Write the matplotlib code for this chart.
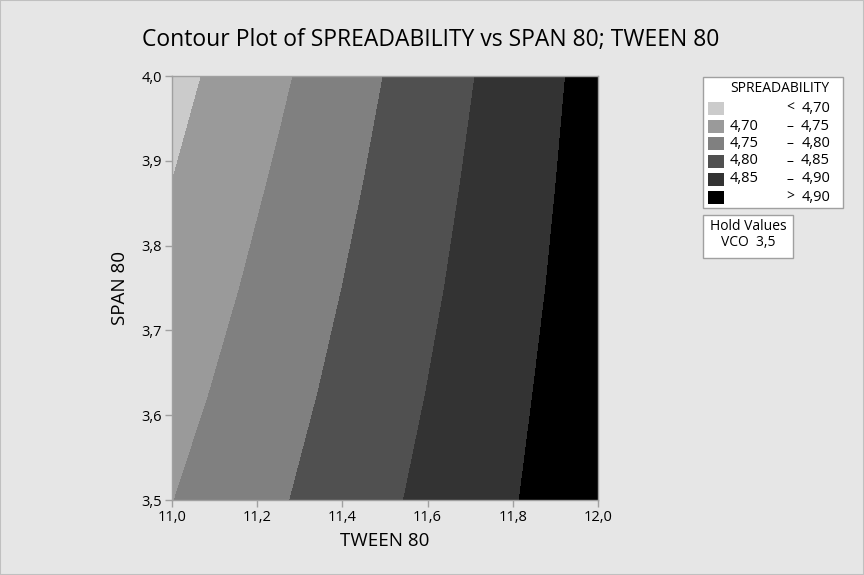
import matplotlib
matplotlib.use("Agg")
import matplotlib.pyplot as plt
from matplotlib.patches import Rectangle

# ---- data ----
tween = [11.0, 11.25, 11.5, 11.75, 12.0]
span = [3.5, 3.625, 3.75, 3.875, 4.0]
spreadability = [
    [4.749, 4.795, 4.842, 4.888, 4.934],
    [4.733, 4.782, 4.831, 4.881, 4.930],
    [4.717, 4.769, 4.821, 4.873, 4.926],
    [4.700, 4.756, 4.811, 4.866, 4.922],
    [4.684, 4.742, 4.801, 4.859, 4.918],
]
levels = [4.60, 4.70, 4.75, 4.80, 4.85, 4.90, 5.00]
band_colors = ["#cbcbcb", "#9a9a9a", "#808080", "#505050", "#333333", "#000000"]
legend_low = ["", "4,70", "4,75", "4,80", "4,85", ""]
legend_mid = ["<", "–", "–", "–", "–", ">"]
legend_high = ["4,70", "4,75", "4,80", "4,85", "4,90", "4,90"]
x_ticks = [11.0, 11.2, 11.4, 11.6, 11.8, 12.0]
x_ticklabels = ["11,0", "11,2", "11,4", "11,6", "11,8", "12,0"]
y_ticks = [3.5, 3.6, 3.7, 3.8, 3.9, 4.0]
y_ticklabels = ["3,5", "3,6", "3,7", "3,8", "3,9", "4,0"]
hold_var = "VCO"
hold_val = "3,5"

W, H = 864, 575
plt.rcParams['font.family'] = ['Open Sans', 'DejaVu Sans']
BG = "#e6e6e6"
GRID = "#a0a0a0"
TXT = "#000000"

fig = plt.figure(figsize=(W / 100, H / 100), dpi=100, facecolor=BG)


def fx(x):
    return x / W


def fy(y):
    return 1 - y / H


ax = fig.add_axes([fx(172), fy(500), fx(598) - fx(172), fy(76) - fy(500)])
ax.contourf(tween, span, spreadability, levels=levels, colors=band_colors,
            antialiased=False)
ax.set_xlim(11.0, 12.0)
ax.set_ylim(3.5, 4.0)
ax.set_xticks(x_ticks)
ax.set_xticklabels(x_ticklabels)
ax.set_yticks(y_ticks)
ax.set_yticklabels(y_ticklabels)
ax.tick_params(axis='both', direction='out', length=5, width=1, color=GRID,
               labelsize=10.5, labelcolor=TXT, pad=2)
for s in ax.spines.values():
    s.set_color(GRID)
    s.set_linewidth(1)

ax.set_xlabel("TWEEN 80", fontsize=13.5, labelpad=5)
ax.set_ylabel("SPAN 80", fontsize=13.5, labelpad=9)

fig.text(fx(431), fy(40), "Contour Plot of SPREADABILITY vs SPAN 80; TWEEN 80",
         fontsize=16.5, ha='center', va='center')

# legend box
fig.patches.append(Rectangle((fx(703), fy(208)), fx(843) - fx(703), fy(77) - fy(208),
                             transform=fig.transFigure, facecolor='white',
                             edgecolor=GRID, linewidth=1))
fig.text(fx(780), fy(88), "SPREADABILITY", fontsize=10, ha='center', va='center')
row_y = [108.5, 126.5, 143.5, 161, 179, 197.5]
for i, c in enumerate(band_colors):
    yc = row_y[i]
    fig.patches.append(Rectangle((fx(708), fy(yc + 6.5)), fx(16), 13 / H,
                                 transform=fig.transFigure, facecolor=c,
                                 edgecolor='none'))
    if legend_low[i]:
        fig.text(fx(730), fy(yc), legend_low[i], fontsize=10.5, ha='left', va='center')
    fig.text(fx(790), fy(yc), legend_mid[i], fontsize=10, ha='center', va='center')
    fig.text(fx(830), fy(yc), legend_high[i], fontsize=10.5, ha='right', va='center')

# hold values box
fig.patches.append(Rectangle((fx(703), fy(258)), fx(793) - fx(703), fy(215) - fy(258),
                             transform=fig.transFigure, facecolor='white',
                             edgecolor=GRID, linewidth=1))
fig.text(fx(748), fy(227), "Hold Values", fontsize=10, ha='center', va='center')
fig.text(fx(748), fy(243), f"{hold_var}  {hold_val}", fontsize=10, ha='center', va='center')

# outer border
fig.patches.append(Rectangle((0, 0), 1, 1, transform=fig.transFigure,
                             facecolor='none', edgecolor="#c0c0c0", linewidth=1.5))

fig.savefig("out.png", dpi=100, facecolor=BG)
